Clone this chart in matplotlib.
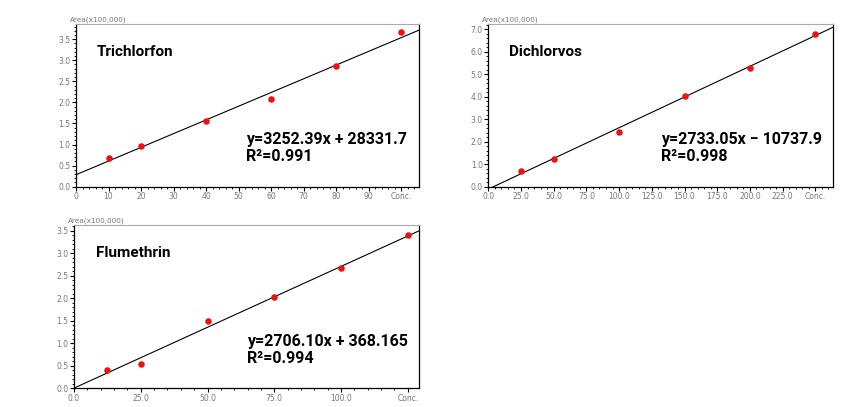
import matplotlib
matplotlib.use("Agg")
import matplotlib.pyplot as plt
import numpy as np
from matplotlib.ticker import FixedLocator, AutoMinorLocator

# ---- data ----
tri_x = [10, 20, 40, 60, 80, 100]
tri_y = [0.68, 0.97, 1.56, 2.08, 2.87, 3.67]
tri_slope, tri_icpt = 3252.39, 28331.7

dic_x = [25, 50, 100, 150, 200, 250]
dic_y = [0.72, 1.22, 2.45, 4.03, 5.30, 6.80]
dic_slope, dic_icpt = 2733.05, -10737.9

flu_x = [12.5, 25, 50, 75, 100, 125]
flu_y = [0.41, 0.55, 1.49, 2.02, 2.67, 3.40]
flu_slope, flu_icpt = 2706.10, 368.165

tri_xticks = [0, 10, 20, 30, 40, 50, 60, 70, 80, 90, 100]
tri_xlabels = ["0", "10", "20", "30", "40", "50", "60", "70", "80", "90", "Conc."]
tri_yticks = [0.0, 0.5, 1.0, 1.5, 2.0, 2.5, 3.0, 3.5]

dic_xticks = [0, 25, 50, 75, 100, 125, 150, 175, 200, 225, 250]
dic_xlabels = ["0.0", "25.0", "50.0", "75.0", "100.0", "125.0", "150.0",
               "175.0", "200.0", "225.0", "Conc."]
dic_yticks = [0.0, 1.0, 2.0, 3.0, 4.0, 5.0, 6.0, 7.0]

flu_xticks = [0, 25, 50, 75, 100, 125]
flu_xlabels = ["0.0", "25.0", "50.0", "75.0", "100.0", "Conc."]
flu_yticks = [0.0, 0.5, 1.0, 1.5, 2.0, 2.5, 3.0, 3.5]

W, H = 868, 407
fig = plt.figure(figsize=(W / 100, H / 100), dpi=100)
fig.patch.set_facecolor("white")

TXT_FONT = ["Roboto", "DejaVu Sans"]


def px_axes(l, t, r, b):
    return fig.add_axes([l / W, (H - b) / H, (r - l) / W, (b - t) / H])


def panel(ax, xs, ys, slope, icpt, xlim, ylim, xticks, xlabels, yticks,
          name, name_xy, eq, r2, eq_xy):
    ax.set_xlim(*xlim)
    ax.set_ylim(*ylim)
    xl = np.array(xlim)
    ax.plot(xl, (slope * xl + icpt) / 100000.0, color="black", lw=0.8, zorder=2)
    ax.scatter(xs, ys, s=22, color="#ee1111", zorder=3, linewidths=0)

    ax.xaxis.set_major_locator(FixedLocator(xticks))
    ax.set_xticklabels(xlabels)
    ax.yaxis.set_major_locator(FixedLocator(yticks))
    ax.set_yticklabels([f"{v:.1f}" for v in yticks])
    ax.xaxis.set_minor_locator(AutoMinorLocator(5))
    ax.yaxis.set_minor_locator(AutoMinorLocator(5))
    ax.tick_params(axis="both", which="major", direction="out", length=3,
                   width=0.8, labelsize=5.5, labelcolor="#777777", pad=1)
    ax.tick_params(axis="both", which="minor", direction="out", length=1.5,
                   width=0.6)
    for s in ["left", "bottom", "right"]:
        ax.spines[s].set_color("black")
        ax.spines[s].set_linewidth(0.9)
    ax.spines["top"].set_color("#aaaaaa")
    ax.spines["top"].set_linestyle((0, (1, 1)))
    ax.spines["top"].set_linewidth(0.8)

    ax.text(-0.018, 1.008, "Area(x100,000)", transform=ax.transAxes,
            fontsize=5.2, color="#777777", ha="left", va="bottom")
    ax.text(name_xy[0], name_xy[1], name, transform=ax.transAxes,
            fontsize=11, fontweight="bold", family=TXT_FONT,
            ha="left", va="center")
    ax.text(eq_xy[0], eq_xy[1], eq, transform=ax.transAxes,
            fontsize=11.5, fontweight="bold", family=TXT_FONT,
            ha="left", va="center")
    ax.text(eq_xy[0], eq_xy[1] - 0.105, r2, transform=ax.transAxes,
            fontsize=11.5, fontweight="bold", family=TXT_FONT,
            ha="left", va="center")


ax1 = px_axes(76, 24, 419, 186.7)
panel(ax1, tri_x, tri_y, tri_slope, tri_icpt, (0, 105.5), (0, 3.86),
      tri_xticks, tri_xlabels, tri_yticks, "Trichlorfon", (0.06, 0.83),
      "y=3252.39x + 28331.7", "R\u00b2=0.991", (0.495, 0.29))

ax2 = px_axes(488.3, 24, 833, 186.7)
panel(ax2, dic_x, dic_y, dic_slope, dic_icpt, (0, 263.5), (0, 7.24),
      dic_xticks, dic_xlabels, dic_yticks, "Dichlorvos", (0.06, 0.83),
      "y=2733.05x \u2212 10737.9", "R\u00b2=0.998", (0.5, 0.29))

ax3 = px_axes(74, 225, 419.3, 388.3)
panel(ax3, flu_x, flu_y, flu_slope, flu_icpt, (0, 129.3), (0, 3.63),
      flu_xticks, flu_xlabels, flu_yticks, "Flumethrin", (0.065, 0.83),
      "y=2706.10x + 368.165", "R\u00b2=0.994", (0.5, 0.285))

fig.savefig("out.png", dpi=100, facecolor="white")
